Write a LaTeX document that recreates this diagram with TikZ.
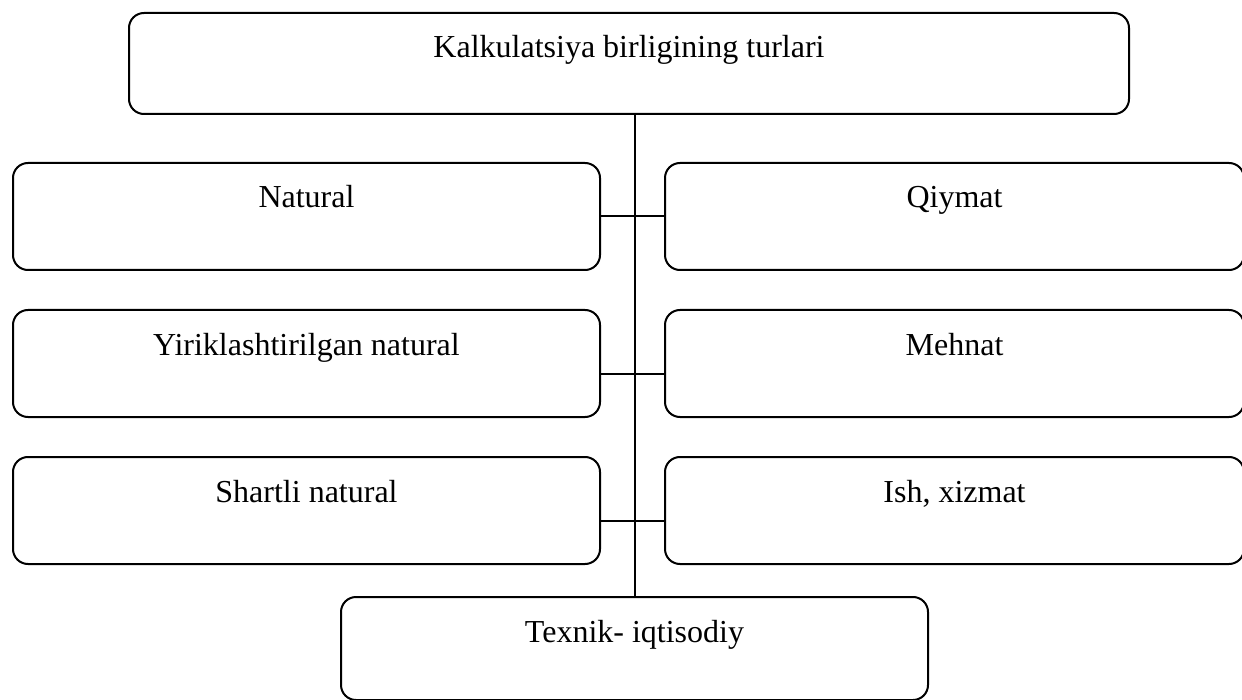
\documentclass[tikz,border=0pt]{standalone}
\usepackage{fontspec}
\setmainfont{Liberation Serif}
\usetikzlibrary{positioning}

\begin{document}
\begin{tikzpicture}[node distance=19pt and 31.5pt,
  box/.style={draw,line width=1pt,rounded corners=7.5pt,inner sep=0pt,text height=22.5pt,text depth=31pt,minimum width=293.5pt,font=\fontsize{16}{19}\selectfont},
  link/.style={line width=1pt}]
\useasboundingbox (0,0) rectangle (621pt,-350pt);
\node[box,minimum width=500pt,text depth=28pt,anchor=north west] (top) at (64pt,-6pt) {Kalkulatsiya birligining turlari};
\node[box,anchor=north west] (l1) at (6pt,-81pt) {Natural};
\node[box,below=of l1] (l2) {Yiriklashtirilgan natural};
\node[box,below=of l2] (l3) {Shartli natural};
\node[box,minimum width=289.5pt,right=of l1] (r1) {Qiymat};
\node[box,minimum width=289.5pt,right=of l2] (r2) {Mehnat};
\node[box,minimum width=289.5pt,right=of l3] (r3) {Ish, xizmat};
\node[box,text depth=29pt,anchor=north west] (bot) at (170pt,-298pt) {Texnik- iqtisodiy};
\draw[link] (bot.north |- top.south) -- (bot.north);
\draw[link] (l1.east) -- (r1.west);
\draw[link] ([yshift=-5pt]l2.east) -- ([yshift=-5pt]r2.west);
\draw[link] ([yshift=-5pt]l3.east) -- ([yshift=-5pt]r3.west);
\end{tikzpicture}
\end{document}
